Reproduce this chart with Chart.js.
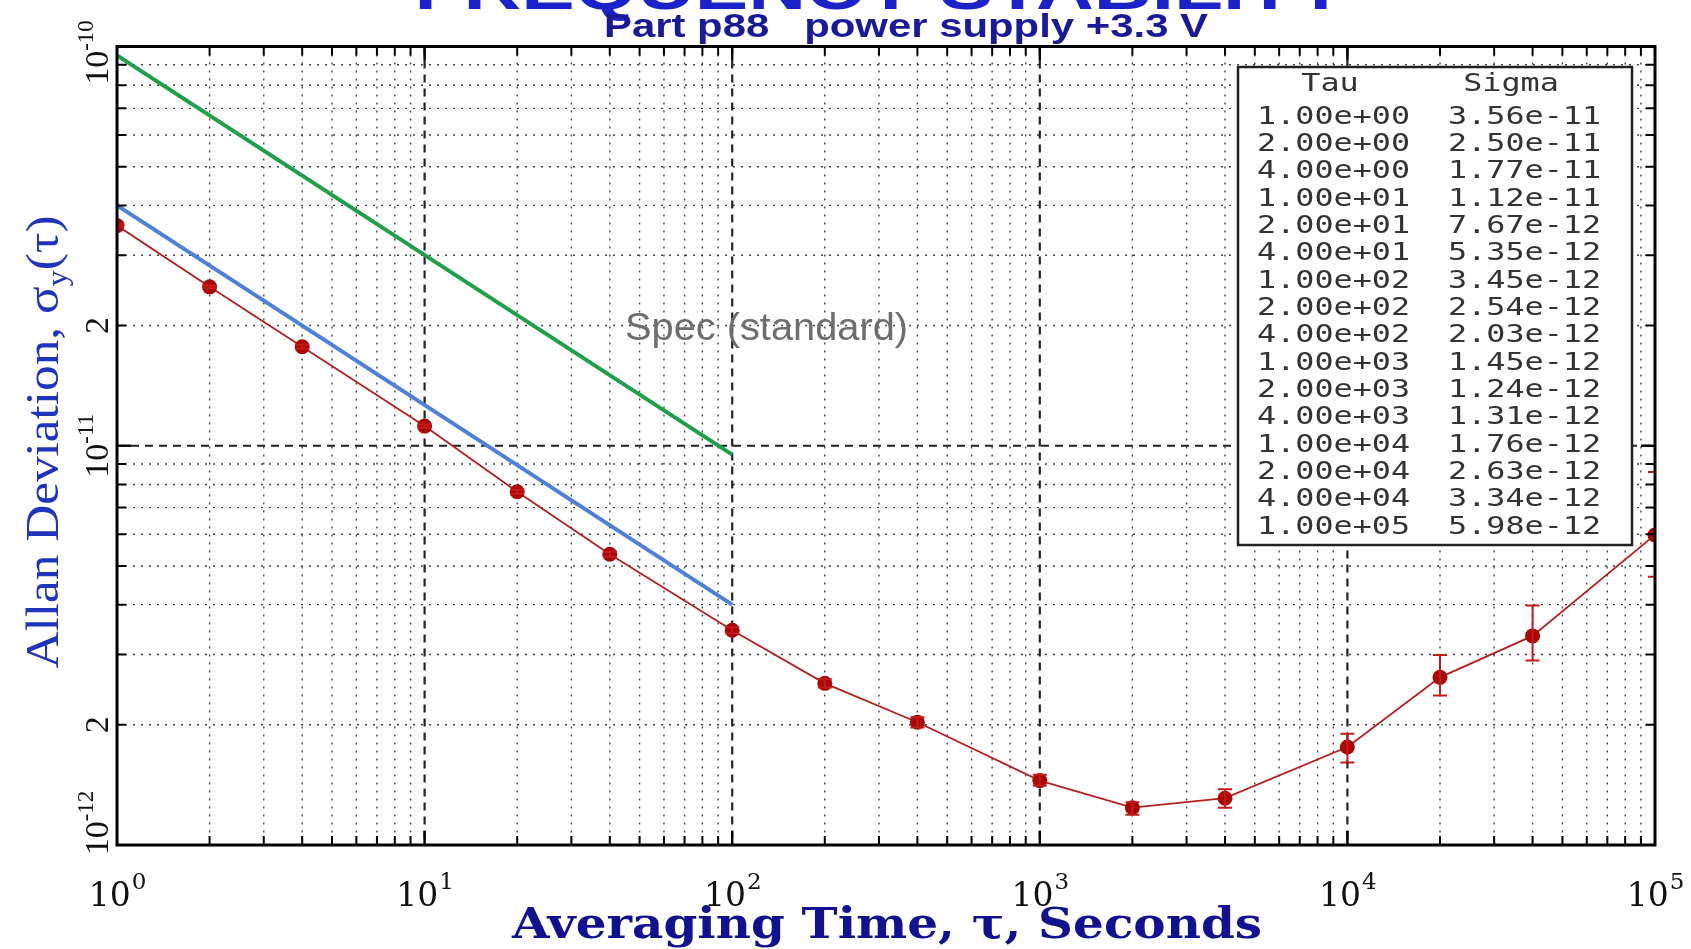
<!DOCTYPE html>
<html>
<head>
<meta charset="utf-8">
<script src="https://cdn.jsdelivr.net/npm/chart.js@4"></script>
<style>
  body { margin: 0; background: #fff; }
  canvas { display: block; }
</style>
</head>
<body>
<canvas id="c" width="1691" height="949"></canvas>
<script>
const tau = [1, 2, 4, 10, 20, 40, 100, 200, 400, 1000, 2000, 4000, 10000, 20000, 40000, 100000];
const sigma = [3.56e-11, 2.50e-11, 1.77e-11, 1.12e-11, 7.67e-12, 5.35e-12, 3.45e-12, 2.54e-12,
               2.03e-12, 1.45e-12, 1.24e-12, 1.31e-12, 1.76e-12, 2.63e-12, 3.34e-12, 5.98e-12];
// error bar ends
const sigmaLo = [3.53e-11, 2.48e-11, 1.75e-11, 1.11e-11, 7.58e-12, 5.27e-12, 3.39e-12, 2.48e-12,
                 1.97e-12, 1.41e-12, 1.19e-12, 1.24e-12, 1.61e-12, 2.37e-12, 2.90e-12, 4.70e-12];
const sigmaHi = [3.59e-11, 2.52e-11, 1.79e-11, 1.13e-11, 7.76e-12, 5.43e-12, 3.51e-12, 2.60e-12,
                 2.09e-12, 1.50e-12, 1.28e-12, 1.38e-12, 1.90e-12, 2.99e-12, 3.98e-12, 8.60e-12];

// spec line (green) and reference slope (blue)
const specTau = [1, 100];
const specSigma = [9.5e-11, 9.5e-12];
const refTau = [1, 100];
const refSigma = [4.0e-11, 4.0e-12];

// tick labels
const xTickValues = [1, 10, 100, 1000, 10000, 100000];
const xTickExp = ['0', '1', '2', '3', '4', '5'];
const yTickValues = [1e-12, 2e-12, 1e-11, 2e-11, 1e-10];
const yTickBase = ['10', '2', '10', '2', '10'];
const yTickExp = ['-12', '', '-11', '', '-10'];

const titleText = 'FREQUENCY STABILITY';
const subTitle = 'Part p88   power supply +3.3 V';
const specLabel = 'Spec (standard)';

function fmt(v) {
  let [m, e] = v.toExponential(2).split('e');
  return m + 'e' + e[0] + e.slice(1).padStart(2, '0');
}

function fitText(ctx, text, x, y, width, align) {
  let w = ctx.measureText(text).width;
  ctx.save();
  ctx.translate(x, y);
  ctx.scale(width / w, 1);
  ctx.textAlign = align || 'center';
  ctx.fillText(text, 0, 0);
  ctx.restore();
}

const pts = (xs, ys) => xs.map((x, i) => ({x, y: ys[i]}));

const gridPlugin = {
  id: 'grid',
  beforeDatasetsDraw(chart) {
    let {ctx, chartArea: a, scales: {x, y}} = chart;
    ctx.save();
    ctx.beginPath();
    ctx.rect(a.left, a.top, a.right - a.left, a.bottom - a.top);
    ctx.clip();
    ctx.lineWidth = 1.4;
    ctx.strokeStyle = '#444';
    ctx.setLineDash([2, 6]);
    for (let d = 0; d < 5; d++) {
      for (let m = 2; m <= 9; m++) {
        let px = x.getPixelForValue(m * 10 ** d);
        ctx.beginPath(); ctx.moveTo(px, a.top); ctx.lineTo(px, a.bottom); ctx.stroke();
      }
    }
    for (let d = -12; d < -10; d++) {
      for (let m = 2; m <= 9; m++) {
        let py = y.getPixelForValue(m * 10 ** d);
        ctx.beginPath(); ctx.moveTo(a.left, py); ctx.lineTo(a.right, py); ctx.stroke();
      }
    }
    ctx.lineWidth = 2.2;
    ctx.strokeStyle = '#222';
    ctx.setLineDash([8, 6]);
    for (let v of [10, 100, 1000, 10000]) {
      let px = x.getPixelForValue(v);
      ctx.beginPath(); ctx.moveTo(px, a.top); ctx.lineTo(px, a.bottom); ctx.stroke();
    }
    let py = y.getPixelForValue(1e-11);
    ctx.beginPath(); ctx.moveTo(a.left, py); ctx.lineTo(a.right, py); ctx.stroke();
    ctx.restore();
  }
};

const overlayPlugin = {
  id: 'overlay',
  afterDatasetsDraw(chart) {
    let {ctx, chartArea: a, scales: {x, y}} = chart;
    ctx.save();

    // error bars, clipped to the plot
    ctx.save();
    ctx.beginPath();
    ctx.rect(a.left, a.top, a.right - a.left, a.bottom - a.top);
    ctx.clip();
    ctx.strokeStyle = '#c41a1a';
    ctx.lineWidth = 2;
    tau.forEach((t, i) => {
      let px = x.getPixelForValue(t);
      let y1 = y.getPixelForValue(sigmaLo[i]);
      let y2 = y.getPixelForValue(sigmaHi[i]);
      ctx.beginPath();
      ctx.moveTo(px, y1); ctx.lineTo(px, y2);
      ctx.moveTo(px - 7, y1); ctx.lineTo(px + 7, y1);
      ctx.moveTo(px - 7, y2); ctx.lineTo(px + 7, y2);
      ctx.stroke();
    });
    ctx.restore();

    // table of values
    let bx = 1238, by = 67, bw = 394, bh = 478;
    ctx.fillStyle = '#fff';
    ctx.fillRect(bx, by, bw, bh);
    ctx.strokeStyle = '#222';
    ctx.lineWidth = 2.5;
    ctx.strokeRect(bx, by, bw, bh);
    ctx.fillStyle = '#333';
    ctx.font = '25px "DejaVu Sans Mono"';
    ctx.textBaseline = 'middle';
    let sx = 153 / ctx.measureText('1.00e+00').width;
    let put = (t, px, py, align) => {
      ctx.save();
      ctx.translate(px, py);
      ctx.scale(sx, 1);
      ctx.textAlign = align;
      ctx.fillText(t, 0, 0);
      ctx.restore();
    };
    put('Tau', 1330, 84, 'center');
    put('Sigma', 1511, 84, 'center');
    tau.forEach((t, i) => {
      let py = 117 + i * 27.35;
      put(fmt(t), 1257, py, 'left');
      put(fmt(sigma[i]), 1448, py, 'left');
    });

    // frame and tick marks
    ctx.strokeStyle = '#000';
    ctx.lineWidth = 3;
    ctx.strokeRect(a.left, a.top, a.right - a.left, a.bottom - a.top);
    ctx.lineWidth = 2;
    for (let d = 0; d < 5; d++) {
      for (let m = 1; m <= 10; m++) {
        let px = x.getPixelForValue(m * 10 ** d);
        let len = (m === 1 || m === 10) ? 14 : 9;
        ctx.beginPath();
        ctx.moveTo(px, a.bottom); ctx.lineTo(px, a.bottom - len);
        ctx.moveTo(px, a.top); ctx.lineTo(px, a.top + len);
        ctx.stroke();
      }
    }
    for (let d = -12; d < -10; d++) {
      for (let m = 1; m <= 10; m++) {
        let py = y.getPixelForValue(m * 10 ** d);
        let len = (m === 1 || m === 10) ? 14 : 9;
        ctx.beginPath();
        ctx.moveTo(a.left, py); ctx.lineTo(a.left + len, py);
        ctx.moveTo(a.right, py); ctx.lineTo(a.right - len, py);
        ctx.stroke();
      }
    }
    ctx.restore();
  },
  afterDraw(chart) {
    let {ctx, chartArea: a, scales: {x, y}} = chart;
    ctx.save();
    ctx.textBaseline = 'alphabetic';

    // titles
    ctx.fillStyle = '#1a22c8';
    ctx.font = 'bold 60px "Liberation Sans"';
    fitText(ctx, titleText, 881, 8.5, 933);
    ctx.fillStyle = '#1a1a96';
    ctx.font = 'bold 33px "Liberation Sans"';
    fitText(ctx, subTitle, 906, 37, 604);

    // spec label
    ctx.fillStyle = '#6e6e6e';
    ctx.font = '38px "Liberation Sans"';
    ctx.textBaseline = 'middle';
    fitText(ctx, specLabel, 625, 330, 283, 'left');

    // x tick labels
    ctx.fillStyle = '#111';
    ctx.textBaseline = 'alphabetic';
    ctx.textAlign = 'left';
    xTickValues.forEach((v, i) => {
      ctx.font = '33px "DejaVu Serif"';
      let wb = ctx.measureText('10').width;
      ctx.font = '23px "DejaVu Serif"';
      let we = ctx.measureText(xTickExp[i]).width;
      let px = x.getPixelForValue(v) - (wb + we) / 2;
      ctx.font = '33px "DejaVu Serif"';
      ctx.fillText('10', px, 906);
      ctx.font = '23px "DejaVu Serif"';
      ctx.fillText(xTickExp[i], px + wb + 1, 889);
    });

    // y tick labels (rotated)
    yTickValues.forEach((v, i) => {
      let py = y.getPixelForValue(v);
      if (i === 0) py -= 22;
      if (i === yTickValues.length - 1) py += 6;
      ctx.save();
      ctx.translate(108, py);
      ctx.rotate(-Math.PI / 2);
      ctx.font = '34px "Liberation Serif"';
      let wb = ctx.measureText(yTickBase[i]).width;
      ctx.font = '23px "Liberation Serif"';
      let we = ctx.measureText(yTickExp[i]).width;
      let sx0 = -(wb + we) / 2;
      ctx.font = '34px "Liberation Serif"';
      ctx.fillText(yTickBase[i], sx0, 0);
      ctx.font = '23px "Liberation Serif"';
      ctx.fillText(yTickExp[i], sx0 + wb, -15);
      ctx.restore();
    });

    // x axis title
    ctx.fillStyle = '#12128f';
    ctx.font = 'bold 42px "DejaVu Serif"';
    fitText(ctx, 'Averaging Time, \u03c4, Seconds', 887, 938, 750);

    // y axis title
    ctx.save();
    ctx.translate(58, 442);
    ctx.rotate(-Math.PI / 2);
    ctx.fillStyle = '#2034bb';
    let parts = [['Allan Deviation, \u03c3', 46, 0], ['y', 29, 9], ['(\u03c4)', 46, 0]];
    let total = 0;
    parts.forEach(p => { ctx.font = p[1] + 'px "Liberation Serif"'; total += ctx.measureText(p[0]).width; });
    let k = 453 / total;
    ctx.scale(k, 1);
    let cx = -total / 2;
    ctx.textAlign = 'left';
    parts.forEach(p => {
      ctx.font = p[1] + 'px "Liberation Serif"';
      ctx.fillText(p[0], cx, p[2]);
      cx += ctx.measureText(p[0]).width;
    });
    ctx.restore();

    ctx.restore();
  }
};

new Chart(document.getElementById('c').getContext('2d'), {
  type: 'line',
  data: {
    datasets: [
      {
        label: 'Sigma',
        data: pts(tau, sigma),
        borderColor: '#b3201f',
        borderWidth: 1.8,
        pointRadius: 7.5,
        pointBackgroundColor: '#a80808',
        pointBorderWidth: 0
      },
      {
        label: 'Reference',
        data: pts(refTau, refSigma),
        borderColor: '#4f80d8',
        borderWidth: 4,
        pointRadius: 0
      },
      {
        label: 'Spec (standard)',
        data: pts(specTau, specSigma),
        borderColor: '#1ea04a',
        borderWidth: 4,
        pointRadius: 0
      }
    ]
  },
  options: {
    responsive: false,
    animation: false,
    devicePixelRatio: 1,
    layout: { padding: { left: 0, right: 36, top: 46.5, bottom: 0 } },
    plugins: { legend: { display: false }, tooltip: { enabled: false } },
    scales: {
      x: {
        type: 'logarithmic', min: 1, max: 100000,
        grid: { display: false }, border: { display: false }, ticks: { display: false },
        afterFit(s) { s.height = 104; }
      },
      y: {
        type: 'logarithmic', min: 1e-12, max: 1e-10,
        grid: { display: false }, border: { display: false }, ticks: { display: false },
        afterFit(s) { s.width = 117; }
      }
    }
  },
  plugins: [gridPlugin, overlayPlugin]
});
</script>
</body>
</html>
